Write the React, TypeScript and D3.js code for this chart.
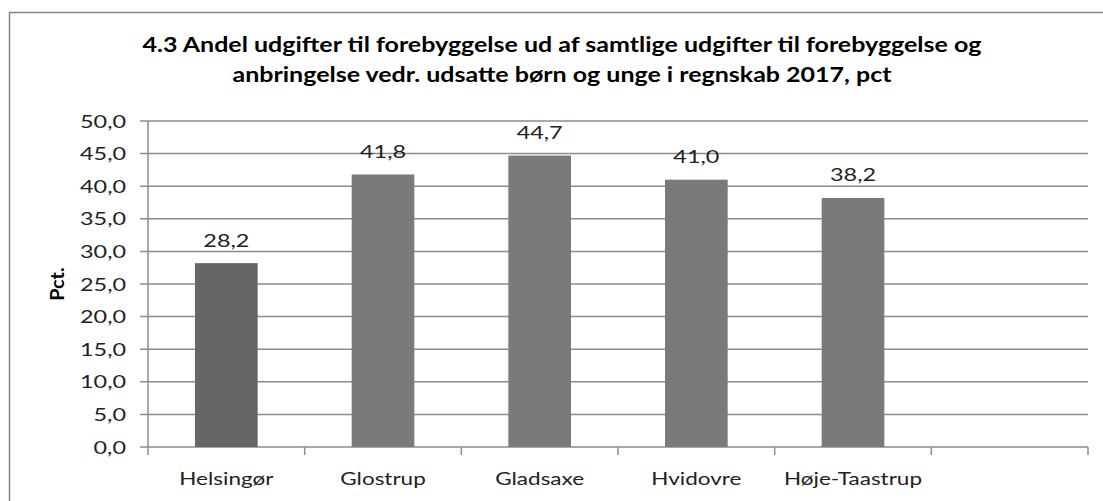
import React from "react";
import * as d3 from "d3";

const categories = ["Helsingør", "Glostrup", "Gladsaxe", "Hvidovre", "Høje-Taastrup"];
const values = [28.2, 41.8, 44.7, 41.0, 38.2];
const emptySlots = [""];
const yTicks = [0, 5, 10, 15, 20, 25, 30, 35, 40, 45, 50];
const titleLines = [
  "4.3 Andel udgifter til forebyggelse ud af samtlige udgifter til forebyggelse og",
  "anbringelse vedr. udsatte børn og unge i regnskab 2017, pct",
];
const yAxisTitle = "Pct.";

const W = 1103;
const H = 501;
const plot = { left: 148, right: 1088, top: 121, bottom: 447 };
const gridColor = "#8c8c8c";
const barColors = ["#666666", "#7a7a7a"];
const font = "Lato, 'Open Sans', sans-serif";

const fmt = (v: number) => v.toFixed(1).replace(".", ",");

type TProps = {
  x: number;
  y: number;
  sx: number;
  size: number;
  anchor: "start" | "middle" | "end";
  bold?: boolean;
  rotate?: number;
  children: React.ReactNode;
};

function T({ x, y, sx, size, anchor, bold, rotate = 0, children }: TProps) {
  return (
    <text
      transform={`translate(${x},${y}) rotate(${rotate}) scale(${sx},1)`}
      textAnchor={anchor}
      fontFamily={font}
      fontWeight={bold ? "bold" : "normal"}
      fontSize={size}
      fill={bold ? "#000" : "#222"}
    >
      {children}
    </text>
  );
}

export default function App() {
  const x = d3
    .scaleBand<string>()
    .domain([...categories, ...emptySlots])
    .range([plot.left, plot.right])
    .paddingInner(0.6)
    .paddingOuter(0.3);
  const y = d3.scaleLinear().domain([0, 50]).range([plot.bottom, plot.top]);
  const step = x.step();
  const slotEdges = d3.range(categories.length + emptySlots.length + 1).map((i) => plot.left + i * step);

  return (
    <svg width={W} height={H} style={{ position: "absolute", left: 0, top: 0, background: "#fff" }}>
      <rect x={9.5} y={12.5} width={W + 20} height={H + 20} fill="#fff" stroke="#868686" strokeWidth={1.5} />
      {titleLines.map((t, i) => (
        <T key={i} x={562} y={52 + i * 30} sx={1.25} size={20} anchor="middle" bold>
          {t}
        </T>
      ))}
      {yTicks.map((t) => (
        <g key={t}>
          <line x1={plot.left - 8} x2={plot.right} y1={y(t)} y2={y(t)} stroke={gridColor} strokeWidth={1.5} />
          <T x={126} y={y(t) + 6.5} sx={1.3} size={18} anchor="end">
            {fmt(t)}
          </T>
        </g>
      ))}
      <line x1={plot.left} x2={plot.left} y1={plot.top} y2={plot.bottom} stroke={gridColor} strokeWidth={1.5} />
      {slotEdges.map((e, i) => (
        <line key={i} x1={e} x2={e} y1={plot.bottom} y2={plot.bottom + 8} stroke={gridColor} strokeWidth={1.5} />
      ))}
      {categories.map((c, i) => {
        const bx = x(c)!;
        const v = values[i];
        const cx = bx + x.bandwidth() / 2;
        return (
          <g key={c}>
            <rect
              x={bx}
              y={y(v)}
              width={x.bandwidth()}
              height={y(0) - y(v)}
              fill={barColors[i === 0 ? 0 : 1]}
            />
            <T x={cx} y={y(v) - 16.5} sx={1.3} size={18} anchor="middle">
              {fmt(v)}
            </T>
            <T x={cx} y={485} sx={1.25} size={18} anchor="middle">
              {c}
            </T>
          </g>
        );
      })}
      <T x={64} y={(plot.top + plot.bottom) / 2} sx={1.1} size={18} anchor="middle" bold rotate={-90}>
        {yAxisTitle}
      </T>
    </svg>
  );
}
